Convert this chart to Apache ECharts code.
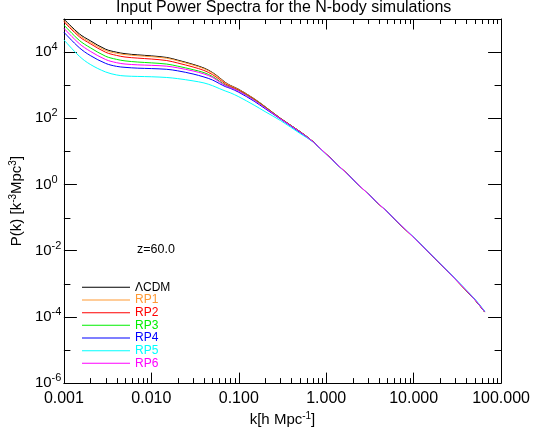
<!DOCTYPE html>
<html>
<head>
<meta charset="utf-8">
<script src="https://cdn.jsdelivr.net/npm/echarts@6/dist/echarts.min.js"></script>
<style>
html,body{margin:0;padding:0;background:#fff;}
#chart{width:533px;height:432px;}
</style>
</head>
<body>
<div id="chart"></div>
<script>
// ---- data ----
const K = [0.001, 0.0015, 0.002, 0.003, 0.004, 0.005, 0.007, 0.01, 0.015, 0.02,
  0.03, 0.04, 0.05, 0.06, 0.07, 0.08, 0.1, 0.15, 0.2, 0.3,
  0.5, 0.7, 1, 1.5, 2, 3, 5, 7, 10, 15, 20, 30, 50, 65];

const P_LCDM = [1.0e5, 3.57e4, 2.21e4, 1.22e4, 9.93e3, 8.95e3, 8.24e3, 7.69e3, 6.89e3, 5.73e3,
  4.26e3, 3.30e3, 2.42e3, 1.70e3, 1.22e3, 9.89e2, 7.50e2, 3.90e2, 2.25e2, 99.8,
  39.9, 20.2, 8.30, 3.03, 1.47, 0.524, 0.147, 0.0619, 0.0249, 8.71e-3, 4.08e-3, 1.36e-3, 3.30e-4, 1.40e-4];
const P_RP1 = [9.12e4, 3.24e4, 2.00e4, 1.12e4, 9.23e3, 8.41e3, 7.76e3, 7.28e3, 6.53e3, 5.46e3,
  4.07e3, 3.16e3, 2.34e3, 1.65e3, 1.19e3, 9.70e2, 7.38e2, 3.86e2, 2.24e2, 99.5,
  39.9, 20.2, 8.30, 3.03, 1.47, 0.524, 0.147, 0.0620, 0.0249, 8.72e-3, 4.09e-3, 1.36e-3, 3.31e-4, 1.40e-4];
const P_RP2 = [8.28e4, 2.92e4, 1.80e4, 9.89e3, 7.94e3, 7.11e3, 6.58e3, 6.17e3, 5.56e3, 4.68e3,
  3.55e3, 2.79e3, 2.09e3, 1.50e3, 1.10e3, 9.12e2, 7.08e2, 3.76e2, 2.20e2, 99.1,
  39.8, 20.1, 8.28, 3.03, 1.47, 0.524, 0.147, 0.0620, 0.0250, 8.73e-3, 4.09e-3, 1.37e-3, 3.31e-4, 1.41e-4];
const P_RP3 = [6.61e4, 2.26e4, 1.36e4, 7.50e3, 6.03e3, 5.43e3, 5.01e3, 4.73e3, 4.35e3, 3.76e3,
  2.95e3, 2.40e3, 1.84e3, 1.33e3, 1.01e3, 8.65e2, 6.76e2, 3.63e2, 2.14e2, 97.7,
  39.5, 20.1, 8.27, 3.02, 1.47, 0.525, 0.147, 0.0621, 0.0250, 8.75e-3, 4.10e-3, 1.37e-3, 3.32e-4, 1.41e-4];
const P_RP4 = [3.99e4, 1.36e4, 7.91e3, 4.56e3, 3.71e3, 3.46e3, 3.27e3, 3.18e3, 3.02e3, 2.72e3,
  2.18e3, 1.77e3, 1.44e3, 1.12e3, 9.10e2, 8.04e2, 6.11e2, 3.28e2, 1.96e2, 95.1,
  37.5, 19.9, 8.22, 3.01, 1.46, 0.525, 0.148, 0.0624, 0.0252, 8.82e-3, 4.15e-3, 1.39e-3, 3.38e-4, 1.44e-4];
const P_RP5 = [2.35e4, 7.53e3, 4.26e3, 2.51e3, 2.04e3, 1.90e3, 1.84e3, 1.80e3, 1.71e3, 1.58e3,
  1.35e3, 1.17e3, 9.68e2, 7.90e2, 6.70e2, 5.89e2, 4.48e2, 2.49e2, 1.59e2, 85.7,
  35.0, 19.5, 8.09, 2.99, 1.46, 0.527, 0.149, 0.0634, 0.0256, 9.02e-3, 4.25e-3, 1.42e-3, 3.48e-4, 1.48e-4];
const P_RP6 = [5.25e4, 1.80e4, 1.06e4, 5.96e3, 4.79e3, 4.37e3, 4.12e3, 3.98e3, 3.76e3, 3.35e3,
  2.69e3, 2.19e3, 1.72e3, 1.26e3, 9.75e2, 8.51e2, 6.61e2, 3.51e2, 2.07e2, 96.6,
  39.0, 20.0, 8.25, 3.02, 1.47, 0.525, 0.148, 0.0622, 0.0251, 8.78e-3, 4.12e-3, 1.38e-3, 3.34e-4, 1.42e-4];

const SERIES_NAMES = ['\u039BCDM', 'RP1', 'RP2', 'RP3', 'RP4', 'RP5', 'RP6'];
const SERIES_VALUES = [P_LCDM, P_RP1, P_RP2, P_RP3, P_RP4, P_RP5, P_RP6];
const SERIES_COLORS = ['#000000', '#ff9933', '#ff0000', '#00ee00', '#0000ff', '#00ffff', '#ff00ff'];

// axis range and ticks
const X_RANGE = [0.001, 100];
const Y_RANGE = [1e-6, 1e5];
const X_MAJOR_TICKS = [0.001, 0.01, 0.1, 1, 10, 100];
const X_MINOR_TICKS = [0.002, 0.003, 0.004, 0.005, 0.006, 0.007, 0.008, 0.009,
  0.02, 0.03, 0.04, 0.05, 0.06, 0.07, 0.08, 0.09,
  0.2, 0.3, 0.4, 0.5, 0.6, 0.7, 0.8, 0.9,
  2, 3, 4, 5, 6, 7, 8, 9,
  20, 30, 40, 50, 60, 70, 80, 90];
const X_TICK_LABELS = ['0.001', '0.010', '0.100', '1.000', '10.000', '100.000'];
const Y_MAJOR_TICKS = [1e-6, 1e-4, 1e-2, 1, 1e2, 1e4];
const Y_MINOR_TICKS = [1e-5, 1e-3, 1e-1, 1e1, 1e3, 1e5];
const Y_TICK_EXPONENTS = ['-6', '-4', '-2', '0', '2', '4'];

// ---- chart ----
const FONT = "'Liberation Sans', Arial, Helvetica, sans-serif";
const chart = echarts.init(document.getElementById('chart'), null, {renderer: 'canvas'});

function findIdx(arr, v) {
  return arr.findIndex(t => Math.abs(Math.log10(t) - Math.log10(v)) < 1e-6);
}

function xAxisDef(position, withLabel) {
  const ax = {
    type: 'log', logBase: 10, min: X_RANGE[0], max: X_RANGE[1], position: position, offset: 0,
    axisLine: {show: true, onZero: false, lineStyle: {color: '#000', width: 1}},
    axisTick: {show: true, inside: true, length: 10.5, customValues: X_MAJOR_TICKS, lineStyle: {color: '#000', width: 1}},
    axisLabel: {show: false},
    splitLine: {show: false}, minorTick: {show: false}, minorSplitLine: {show: false}
  };
  if (withLabel) {
    ax.axisLabel = {
      show: true, customValues: X_MAJOR_TICKS, margin: 7,
      fontSize: 16, fontFamily: FONT, color: '#000',
      formatter: function (v) {
        const i = findIdx(X_MAJOR_TICKS, v);
        return i >= 0 ? X_TICK_LABELS[i] : '';
      }
    };
    ax.name = 'k[h Mpc{sup|-1}]';
    ax.nameLocation = 'middle';
    ax.nameGap = 27;
    ax.nameTextStyle = {fontSize: 15, fontFamily: FONT, color: '#000',
      rich: {sup: {fontSize: 10, fontFamily: FONT, color: '#000', padding: [0, 0, 7, 0]}}};
  }
  return ax;
}
function yAxisDef(position, withLabel) {
  const ax = {
    type: 'log', logBase: 10, min: Y_RANGE[0], max: Y_RANGE[1], position: position, offset: 0,
    axisLine: {show: true, onZero: false, lineStyle: {color: '#000', width: 1}},
    axisTick: {show: true, inside: true, length: 13, customValues: Y_MAJOR_TICKS, lineStyle: {color: '#000', width: 1}},
    axisLabel: {show: false},
    splitLine: {show: false}, minorTick: {show: false}, minorSplitLine: {show: false}
  };
  if (withLabel) {
    ax.axisLabel = {
      show: true, customValues: Y_MAJOR_TICKS, margin: 29, align: 'left',
      fontSize: 15, fontFamily: FONT, color: '#000',
      formatter: function (v) {
        const i = findIdx(Y_MAJOR_TICKS, v);
        return i >= 0 ? '10{sup|' + Y_TICK_EXPONENTS[i] + '}' : '';
      },
      rich: {sup: {fontSize: 11, fontFamily: FONT, color: '#000', padding: [0, 0, 10, 0]}}
    };
    ax.name = 'P(k) [k{sup|-3}Mpc{sup|3}]';
    ax.nameLocation = 'middle';
    ax.nameRotate = 90;
    ax.nameGap = 37;
    ax.nameTextStyle = {fontSize: 15, fontFamily: FONT, color: '#000',
      rich: {sup: {fontSize: 10, fontFamily: FONT, color: '#000', padding: [0, 0, 7, 0]}}};
  }
  return ax;
}

const series = SERIES_NAMES.map((name, s) => ({
  name: name,
  type: 'line',
  xAxisIndex: 0, yAxisIndex: 0,
  data: K.map((k, i) => [k, SERIES_VALUES[s][i]]),
  showSymbol: false, symbol: 'none',
  smooth: 0.35,
  lineStyle: {color: SERIES_COLORS[s], width: 1},
  itemStyle: {color: SERIES_COLORS[s]},
  z: 2 + s,
  silent: true
}));

// minor ticks on all four sides, positioned through the axes' own scales
series.push({
  name: 'xMinorTicks', type: 'custom', xAxisIndex: 0, yAxisIndex: 0,
  silent: true, clip: false, z: 20,
  data: X_MINOR_TICKS.map(v => [v, Y_RANGE[0]]),
  renderItem: function (params, api) {
    const v = api.value(0);
    const b = api.coord([v, Y_RANGE[0]]);
    const t = api.coord([v, Y_RANGE[1]]);
    const x = Math.round(b[0]) + 0.5;
    return {type: 'group', children: [
      {type: 'line', shape: {x1: x, y1: b[1], x2: x, y2: b[1] - 5}, style: {stroke: '#000', lineWidth: 1}},
      {type: 'line', shape: {x1: x, y1: t[1], x2: x, y2: t[1] + 5}, style: {stroke: '#000', lineWidth: 1}}
    ]};
  }
});
series.push({
  name: 'yMinorTicks', type: 'custom', xAxisIndex: 0, yAxisIndex: 0,
  silent: true, clip: false, z: 20,
  data: Y_MINOR_TICKS.map(v => [X_RANGE[0], v]),
  renderItem: function (params, api) {
    const v = api.value(1);
    const l = api.coord([X_RANGE[0], v]);
    const r = api.coord([X_RANGE[1], v]);
    const y = Math.round(l[1]) + 0.5;
    return {type: 'group', children: [
      {type: 'line', shape: {x1: l[0], y1: y, x2: l[0] + 6.5, y2: y}, style: {stroke: '#000', lineWidth: 1}},
      {type: 'line', shape: {x1: r[0], y1: y, x2: r[0] - 6.5, y2: y}, style: {stroke: '#000', lineWidth: 1}}
    ]};
  }
});

chart.setOption({
  animation: false,
  backgroundColor: '#fff',
  textStyle: {fontFamily: FONT},
  title: {
    text: 'Input Power Spectra for the N-body simulations',
    left: 116, top: 0, padding: 0,
    textStyle: {fontSize: 16, fontWeight: 'normal', fontFamily: FONT, color: '#000'}
  },
  grid: {left: 62, right: 28, top: 19, bottom: 45, containLabel: false},
  xAxis: [xAxisDef('bottom', true), xAxisDef('top', false)],
  yAxis: [yAxisDef('left', true), yAxisDef('right', false)],
  legend: {
    orient: 'vertical', left: 82, top: 281, padding: 0,
    itemWidth: 48, itemHeight: 1, itemGap: 0, icon: 'rect',
    selectedMode: false,
    textStyle: {fontSize: 12, lineHeight: 12.67, fontFamily: FONT},
    data: SERIES_NAMES.map((n, i) => ({name: n, textStyle: {color: SERIES_COLORS[i]}}))
  },
  graphic: [{
    type: 'text', left: 137, top: 243,
    style: {text: 'z=60.0', fontSize: 12.5, fontFamily: FONT, fill: '#000'}
  }],
  series: series
});
</script>
</body>
</html>
